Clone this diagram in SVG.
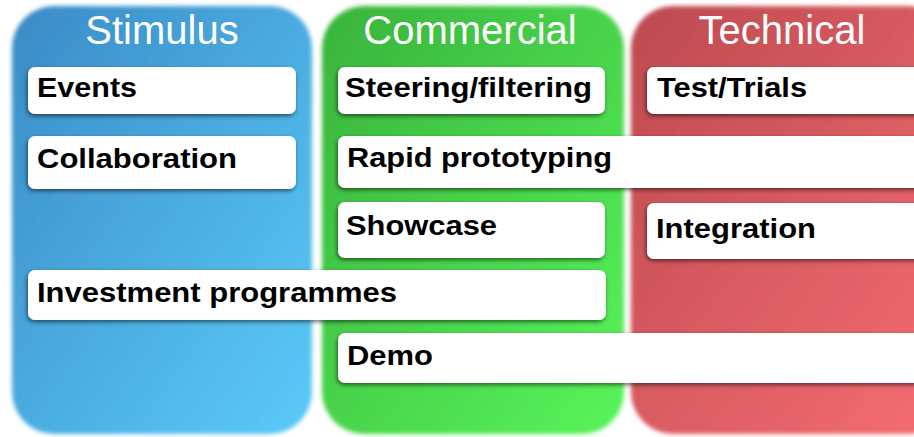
<svg xmlns="http://www.w3.org/2000/svg" width="914" height="437" viewBox="0 0 914 437">
<defs>
<linearGradient id="gBlue" x1="0" y1="0" x2="1" y2="1"><stop offset="0" stop-color="#3a8bc6"/><stop offset="1" stop-color="#5bcbf8"/></linearGradient>
<linearGradient id="gGreen" x1="0" y1="0" x2="1" y2="1"><stop offset="0" stop-color="#39b33c"/><stop offset="1" stop-color="#58f45a"/></linearGradient>
<linearGradient id="gRed" x1="0" y1="0" x2="1" y2="1"><stop offset="0" stop-color="#bd4a50"/><stop offset="1" stop-color="#f56d72"/></linearGradient>
<filter id="soft" x="-5%" y="-5%" width="110%" height="110%"><feGaussianBlur stdDeviation="2.2"/></filter>
<filter id="shadow" x="-5%" y="-20%" width="110%" height="150%"><feDropShadow dx="-1" dy="2" stdDeviation="2" flood-color="#000" flood-opacity="0.55"/></filter>
</defs>
<style>
.title{font-family:"Liberation Sans",Arial,sans-serif;font-size:40px;fill:#fff;text-anchor:middle}
.box{fill:#fff;filter:url(#shadow)}
.lbl{font-family:"Liberation Sans",Arial,sans-serif;font-weight:bold;font-size:27px;fill:#000}
</style>
<rect width="914" height="437" fill="#fff"/>
<g id="panel-stimulus">
<rect x="12" y="6" width="300" height="428" rx="42" fill="url(#gBlue)" filter="url(#soft)"/>
<text class="title" x="162" y="44">Stimulus</text>
</g>
<g id="panel-commercial">
<rect x="322" y="6" width="302" height="428" rx="42" fill="url(#gGreen)" filter="url(#soft)"/>
<text class="title" x="470" y="44">Commercial</text>
</g>
<g id="panel-technical">
<rect x="631" y="6" width="320" height="428" rx="42" fill="url(#gRed)" filter="url(#soft)"/>
<text class="title" x="782" y="44">Technical</text>
</g>
<g id="node-events"><rect class="box" x="28" y="67" width="268" height="47" rx="7"/><text class="lbl" x="37" y="97" textLength="100" lengthAdjust="spacingAndGlyphs">Events</text></g>
<g id="node-collaboration"><rect class="box" x="28" y="136" width="268" height="53" rx="7"/><text class="lbl" x="37" y="168" textLength="200" lengthAdjust="spacingAndGlyphs">Collaboration</text></g>
<g id="node-investment"><rect class="box" x="28" y="270" width="578" height="50" rx="7"/><text class="lbl" x="37" y="302" textLength="360" lengthAdjust="spacingAndGlyphs">Investment programmes</text></g>
<g id="node-steering"><rect class="box" x="338" y="67" width="267" height="47" rx="7"/><text class="lbl" x="345" y="97" textLength="247" lengthAdjust="spacingAndGlyphs">Steering/filtering</text></g>
<g id="node-rapid"><rect class="box" x="338" y="136" width="590" height="52" rx="7"/><text class="lbl" x="347" y="167" textLength="265" lengthAdjust="spacingAndGlyphs">Rapid prototyping</text></g>
<g id="node-showcase"><rect class="box" x="338" y="202" width="267" height="56" rx="7"/><text class="lbl" x="346" y="235" textLength="151" lengthAdjust="spacingAndGlyphs">Showcase</text></g>
<g id="node-demo"><rect class="box" x="338" y="333" width="590" height="50" rx="7"/><text class="lbl" x="347" y="365" textLength="86" lengthAdjust="spacingAndGlyphs">Demo</text></g>
<g id="node-test"><rect class="box" x="647" y="67" width="280" height="47" rx="7"/><text class="lbl" x="657" y="97" textLength="150" lengthAdjust="spacingAndGlyphs">Test/Trials</text></g>
<g id="node-integration"><rect class="box" x="647" y="203" width="280" height="56" rx="7"/><text class="lbl" x="656" y="238" textLength="160" lengthAdjust="spacingAndGlyphs">Integration</text></g>
</svg>
